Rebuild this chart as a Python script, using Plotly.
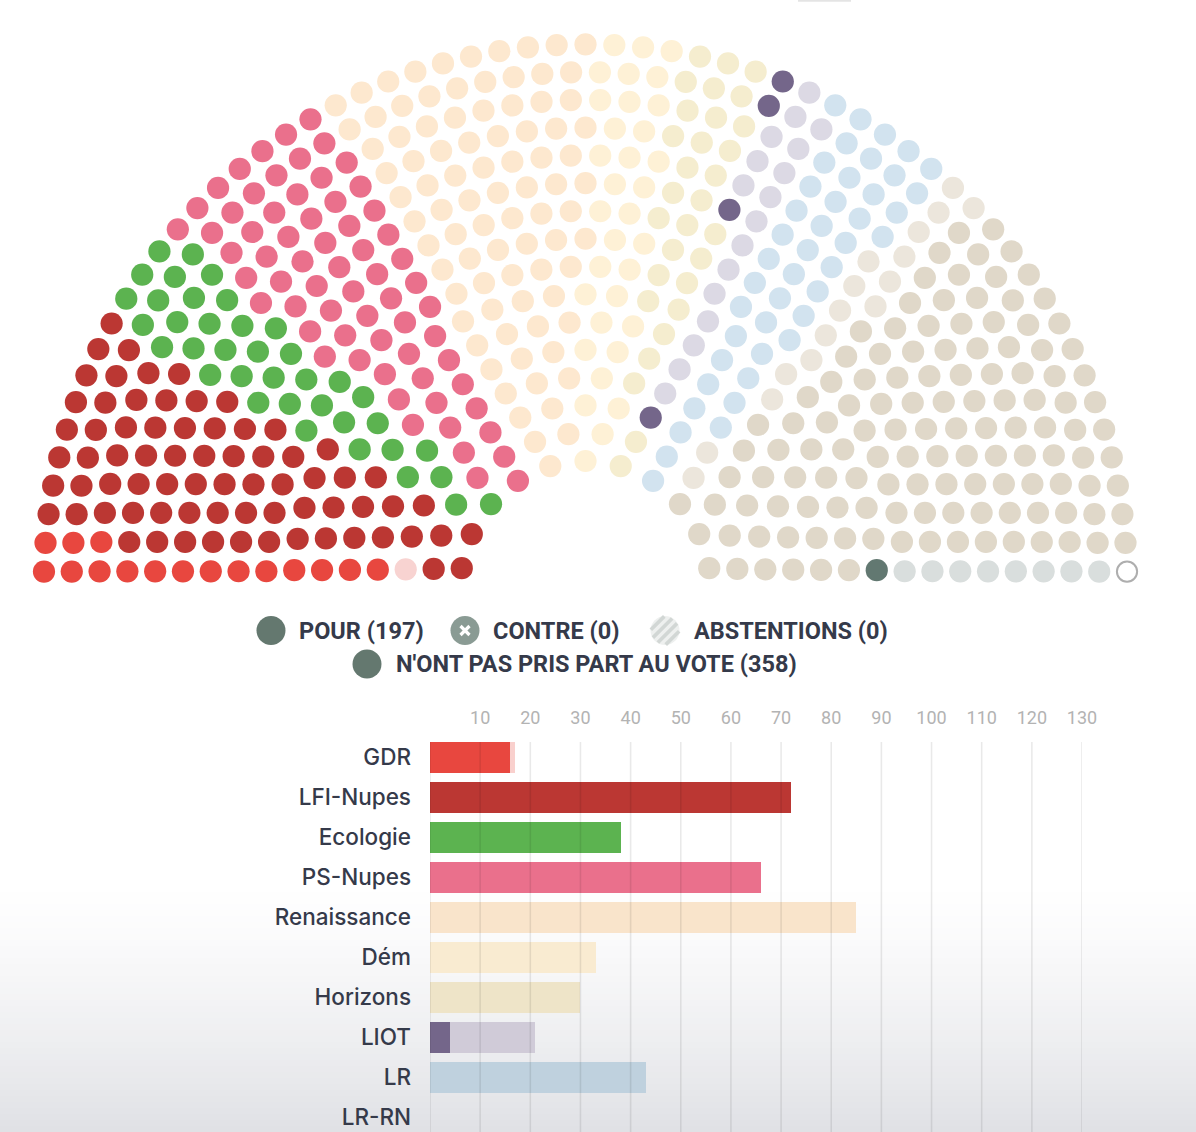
import math
import plotly.graph_objects as go

# ---------------- data ----------------
PARTIES = ["GDR", "LFI-Nupes", "Ecologie", "PS-Nupes", "Renaissance", "Dém",
           "Horizons", "LIOT", "LR", "LR-RN", "RN", "NI"]
POUR = [16, 72, 38, 66, 0, 0, 0, 4, 0, 0, 0, 1]
CONTRE = [0, 0, 0, 0, 0, 0, 0, 0, 0, 0, 0, 0]
ABSTENTION = [0, 0, 0, 0, 0, 0, 0, 0, 0, 0, 0, 0]
NPPV = [1, 0, 0, 0, 85, 33, 30, 17, 43, 16, 125, 8]
VACANT_SEATS = 1

BAR_ROWS = 10      # party rows visible in the bar chart (GDR .. LR-RN)
BAR_DRAWN = 9      # bars visible in the reference (GDR .. LR)
X_TICKS = [0, 10, 20, 30, 40, 50, 60, 70, 80, 90, 100, 110, 120, 130]
X_TICK_LABELS = ["", "10", "20", "30", "40", "50", "60", "70", "80", "90",
                 "100", "110", "120", "130"]

# ---------------- styles ----------------
FULL = {"GDR": "#e8473f", "LFI-Nupes": "#bb3733", "Ecologie": "#5cb350",
        "PS-Nupes": "#ea708c", "Renaissance": "#f5b26a", "Dém": "#f3cf86",
        "Horizons": "#d9c78a", "LIOT": "#74668a", "LR": "#7fb0d3",
        "LR-RN": "#b8a88f", "RN": "#9c8a6e", "NI": "#627871"}
FADED = {"GDR": "#f8d3d1", "LFI-Nupes": "#eec3c1", "Ecologie": "#d6ecd3",
         "PS-Nupes": "#fadbe2", "Renaissance": "#fde8cf", "Dém": "#fef1d6",
         "Horizons": "#f5edcf", "LIOT": "#dcd9e4", "LR": "#d2e3ef",
         "LR-RN": "#ece6dc", "RN": "#e0d8c9", "NI": "#d9dedd"}
BAR_FADED = {"GDR": "#f9d0cd", "Renaissance": "#f9e4cb", "Dém": "#f9ebd1",
             "Horizons": "#eee4c8", "LIOT": "#d0cbd8", "LR": "#bfd1de"}
TEXT = "#353a4a"

W, H = 1196, 1132
CX, CY, OUTER_R, INNER_COEF = 585.5, 586.0, 555.6, 0.2


def parliament_layout(n_seats):
    """d3-parliament style layout: rows of seats, sorted by angle."""
    inner_r = OUTER_R * INNER_COEF
    a = INNER_COEF / (1 - INNER_COEF)
    n_rows, max_seats, b = 0, 0, 0.5
    while max_seats < n_seats:
        n_rows += 1
        b += a
        max_seats = sum(math.floor(math.pi * (b + i)) for i in range(n_rows))
    row_w = (OUTER_R - inner_r) / n_rows
    remove = max_seats - n_seats
    seats = []
    for i in range(n_rows):
        rr = inner_r + row_w * (i + 0.5)
        k = math.floor(math.pi * (b + i)) - remove // n_rows - (1 if remove % n_rows > i else 0)
        step = math.pi / k
        for j in range(k):
            seats.append((-math.pi + step * (j + 0.5), rr))
    seats.sort(key=lambda s: (s[0], -s[1]))
    pts = [(CX + r * math.cos(t), CY + r * math.sin(t)) for t, r in seats]
    return pts, row_w


# seat sequence: party by party, "pour" first, then contre, abstention, non-voting
seq = []
for p, po, co, ab, npv in zip(PARTIES, POUR, CONTRE, ABSTENTION, NPPV):
    seq += [(p, "pour")] * po + [(p, "contre")] * co + [(p, "abst")] * ab + [(p, "np")] * npv
seq += [(None, "vacant")] * VACANT_SEATS

pts, row_w = parliament_layout(len(seq))
seat_d = 0.8 * row_w

fx, fy, fc = [], [], []
vx, vy = [], []
for (x, y), (p, kind) in zip(pts, seq):
    if kind == "vacant":
        vx.append(x); vy.append(y)
    else:
        fx.append(x); fy.append(y)
        fc.append(FULL[p] if kind in ("pour", "contre") else FADED[p])

fig = go.Figure()
fig.add_trace(go.Scatter(x=fx, y=fy, mode="markers", hoverinfo="skip", showlegend=False,
                         marker=dict(size=seat_d, color=fc, line=dict(width=0))))
fig.add_trace(go.Scatter(x=vx, y=vy, mode="markers", hoverinfo="skip", showlegend=False,
                         marker=dict(size=seat_d - 2, color="white",
                                     line=dict(width=2, color="#aeaeae"))))

# ---------------- bars ----------------
rows = list(range(BAR_ROWS))
bp = PARTIES[:BAR_DRAWN]
fig.add_trace(go.Bar(orientation="h", y=rows[:BAR_DRAWN], x=POUR[:BAR_DRAWN],
                     marker=dict(color=[FULL[p] for p in bp], line=dict(width=0)),
                     width=0.775, xaxis="x2", yaxis="y2", hoverinfo="skip",
                     showlegend=False))
fig.add_trace(go.Bar(orientation="h", y=rows[:BAR_DRAWN], x=NPPV[:BAR_DRAWN],
                     marker=dict(color=[BAR_FADED.get(p, FADED[p]) for p in bp],
                                 line=dict(width=0)),
                     width=0.775, xaxis="x2", yaxis="y2", hoverinfo="skip",
                     showlegend=False))

shapes = []


def pp(ypix):
    return (H - ypix) / H


# background gradient at the bottom
g0, g1, nb = 880.0, float(H), 42
for k in range(nb):
    ya = g0 + (g1 - g0) * k / nb
    yb = g0 + (g1 - g0) * (k + 1) / nb
    t = ((k + 0.5) / nb) ** 1.3
    r = round(255 - t * (255 - 224))
    g = round(255 - t * (255 - 225))
    bcol = round(255 - t * (255 - 229))
    shapes.append(dict(type="rect", xref="paper", yref="paper", x0=0, x1=1,
                       y0=pp(yb) - 0.0005, y1=pp(ya), layer="below",
                       fillcolor=f"rgb({r},{g},{bcol})", line=dict(width=0)))

# vertical grid lines over bars
for tv in X_TICKS:
    shapes.append(dict(type="line", xref="x2", yref="y2 domain", x0=tv, x1=tv, y0=0, y1=1,
                       line=dict(color="rgba(0,0,0,0.085)", width=1.6), layer="above"))

# small cut-off element at the top
shapes.append(dict(type="line", xref="x", yref="y", x0=798, x1=851, y0=0.8, y1=0.8,
                   line=dict(color="#e4e4e4", width=2)))

# ---------------- legend ----------------
LR_ = 14.5
LEG_FONT = dict(family="Roboto, Liberation Sans, sans-serif",
                size=23.5, color=TEXT, weight="bold")


def circle(cx, cy, color, r=LR_):
    shapes.append(dict(type="circle", xref="x", yref="y", x0=cx - r, x1=cx + r,
                       y0=cy - r, y1=cy + r, fillcolor=color, line=dict(width=0)))


row1, row2 = 630.5, 664.0
circle(271, row1, "#64786f")
circle(465, row1, "#8a9b94")
for s in (1, -1):
    shapes.append(dict(type="line", xref="x", yref="y", x0=465 - 4.5, x1=465 + 4.5,
                       y0=row1 - 4.5 * s, y1=row1 + 4.5 * s,
                       line=dict(color="white", width=3.2)))
hx = 665
circle(hx, row1, "#eef0ef")
for d in (-10.5, -3.5, 3.5, 10.5):
    L = math.sqrt(max(LR_ ** 2 - d ** 2, 0)) - 0.5
    nx, ny = d / math.sqrt(2), d / math.sqrt(2)
    ux, uy = 1 / math.sqrt(2), -1 / math.sqrt(2)
    shapes.append(dict(type="line", xref="x", yref="y",
                       x0=hx + nx - L * ux, y0=row1 + ny - L * uy,
                       x1=hx + nx + L * ux, y1=row1 + ny + L * uy,
                       line=dict(color="#d2d7d5", width=3.6)))
circle(367, row2, "#64786f")

n_pour = sum(POUR)
n_contre = sum(CONTRE)
n_abs = sum(ABSTENTION)
n_np = sum(NPPV)
annotations = []
for x, y, txt in [(297, row1, f"POUR ({n_pour})"), (491, row1, f"CONTRE ({n_contre})"),
                  (692, row1, f"ABSTENTIONS ({n_abs})"),
                  (394, row2, f"N'ONT PAS PRIS PART AU VOTE ({n_np})")]:
    annotations.append(dict(x=x, y=y, xref="x", yref="y", text=txt, showarrow=False,
                            xanchor="left", yanchor="middle", font=LEG_FONT))

y2_top = 742.0
fig.update_layout(
    width=W, height=H, autosize=False,
    margin=dict(l=0, r=0, t=0, b=0, pad=0, autoexpand=False),
    paper_bgcolor="white", plot_bgcolor="rgba(0,0,0,0)",
    barmode="stack", bargap=0, showlegend=False,
    xaxis=dict(range=[0, W], domain=[0, 1], visible=False, fixedrange=True,
               automargin=False),
    yaxis=dict(range=[H, 0], domain=[0, 1], visible=False, fixedrange=True,
               automargin=False),
    xaxis2=dict(domain=[430 / W, 1082 / W], range=[0, 130], anchor="y2", side="top",
                tickvals=X_TICKS, ticktext=X_TICK_LABELS, showgrid=False, zeroline=False,
                showline=False, ticks="", ticklabelstandoff=13, automargin=False,
                tickfont=dict(family="Roboto", size=18, color="#b3b3b3", weight=400),
                fixedrange=True),
    yaxis2=dict(domain=[0, pp(y2_top)], anchor="x2",
                range=[-0.3875 + (H - y2_top) / 40.0, -0.3875],
                tickvals=rows, ticktext=PARTIES[:BAR_ROWS], showgrid=False,
                zeroline=False, showline=False, ticks="", ticklabelstandoff=18,
                automargin=False,
                tickfont=dict(family="Inter", size=22.5, color=TEXT, weight=500),
                fixedrange=True),
    shapes=shapes, annotations=annotations,
)

fig.write_html("out.html",
               config={"displayModeBar": False, "staticPlot": True, "responsive": False},
               post_script="document.body.style.margin='0';document.body.style.overflow='hidden';")
